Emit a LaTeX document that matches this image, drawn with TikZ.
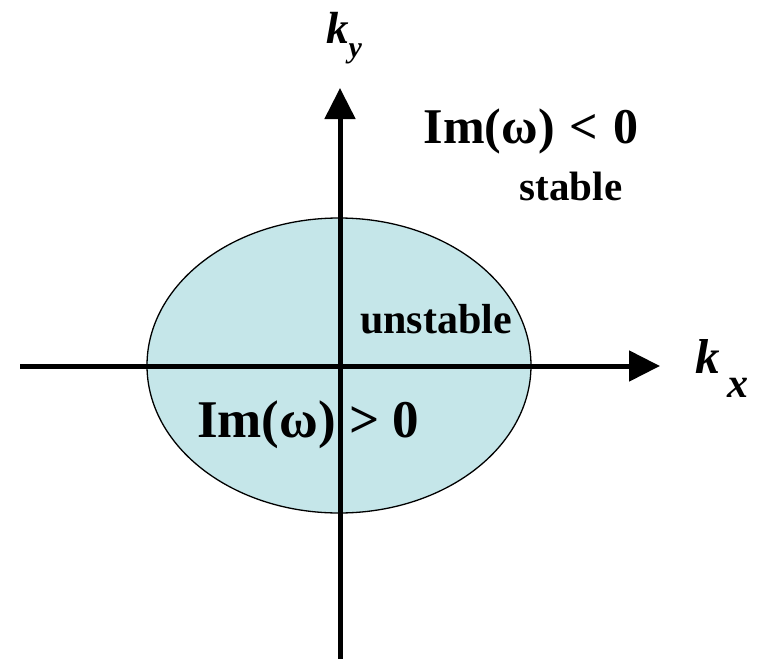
\documentclass[tikz,border=0pt]{standalone}
\usepackage{fontspec}
\setmainfont{Liberation Serif}
\usetikzlibrary{arrows.meta,shapes.geometric}
\definecolor{regionfill}{HTML}{C5E6E9}
\tikzset{
  axis/.style={line width=5pt,-{Triangle[length=31pt,width=30pt]}},
  lbl/.style={inner sep=0pt},
}
\newcommand{\fsz}[1]{\fontsize{#1}{#1}\selectfont\bfseries}
\begin{document}
\begin{tikzpicture}[x=1pt,y=-1pt]
\useasboundingbox (0,0) rectangle (764,659);
\node[ellipse,draw,line width=1.3pt,fill=regionfill,minimum width=384pt,minimum height=295pt,inner sep=0pt] (region) at (339,365.5) {};
\coordinate (xl) at (20,366);
\coordinate (xr) at (660,366);
\coordinate (yb) at (340,659);
\coordinate (yt) at (340,88);
\draw[axis] (xl) -- (xr);
\draw[axis] (yb) -- (yt);
\node[lbl,anchor=base,font=\fsz{50}] (imneg) at (531,143) {Im(ω)\hspace{0.3em}<\hspace{0.3em}0};
\node[lbl,anchor=base,font=\fsz{41}] (stable) at (571,200) {stable};
\node[lbl,anchor=base,font=\fsz{42}] (unstable) at (436,333) {unstable};
\node[lbl,anchor=base west,font=\fsz{53}] (impos) at (197,437) {Im(ω)\hspace{0.25em}> 0};
\node[lbl,anchor=base west,font=\fsz{45}\itshape] (ky) at (326,43) {k\raisebox{-0.33em}{\fsz{30}\itshape y}};
\node[lbl,anchor=base west,font=\fsz{49}\itshape] (kx) at (695,373) {k\hspace{0.15em}\raisebox{-0.5em}{\fsz{42}\itshape x}};
\end{tikzpicture}
\end{document}
